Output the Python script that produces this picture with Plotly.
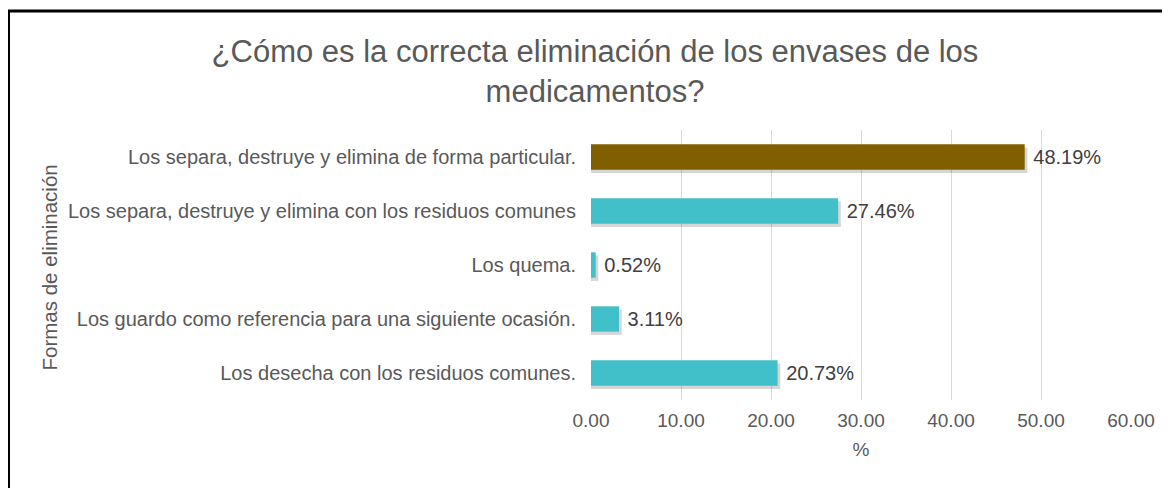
import plotly.graph_objects as go

# categories listed bottom -> top (plotly draws first category at the bottom)
categorias = [
    "Los desecha con los residuos comunes.",
    "Los guardo como referencia para una siguiente ocasión.",
    "Los quema.",
    "Los separa, destruye y elimina con los residuos comunes",
    "Los separa, destruye y elimina de forma particular.",
]
porcentajes = [20.73, 3.11, 0.52, 27.46, 48.19]
colores = ["#42C0C9", "#42C0C9", "#42C0C9", "#42C0C9", "#7F5F00"]
x_ticks = [0, 10, 20, 30, 40, 50, 60]

FONT = "Liberation Sans, Arial, sans-serif"
W, H = 1170, 488
# the page adds an 8px body margin, so figure coords = page coords - 8
L, R, T, B = 583, 47, 122, 96
pw, ph = W - L - R, H - T - B
BAR_W = 0.47


def px_x(p):
    return (p - L) / pw


def px_y(p):
    return (H - B - p) / ph


fig = go.Figure()

# soft drop shadow under each bar (Excel style)
fig.add_trace(go.Bar(
    x=[v + 0.3 for v in porcentajes],
    y=categorias,
    orientation="h",
    marker=dict(color="rgba(0,0,0,0.16)", line=dict(width=0)),
    width=BAR_W,
    offset=-BAR_W / 2 - 0.06,
    hoverinfo="skip",
))

fig.add_trace(go.Bar(
    x=porcentajes,
    y=categorias,
    orientation="h",
    marker=dict(color=colores, line=dict(width=0)),
    width=BAR_W,
    offset=-BAR_W / 2,
    texttemplate=" %{x:.2f}%",
    textposition="outside",
    textfont=dict(size=20, color="#404040", family=FONT),
    cliponaxis=False,
    hoverinfo="skip",
))

fig.update_layout(
    width=W, height=H,
    margin=dict(l=L, r=R, t=T, b=B),
    paper_bgcolor="white",
    plot_bgcolor="white",
    font=dict(family=FONT, color="#595959"),
    showlegend=False,
    barmode="overlay",
    title=dict(
        text="¿Cómo es la correcta eliminación de los envases de los<br>medicamentos?",
        x=587 / W, xanchor="center", xref="container",
        y=1 - 54 / H, yanchor="middle", yref="container",
        font=dict(size=31, color="#595959", family=FONT),
    ),
    xaxis=dict(
        range=[0, 60],
        tickvals=x_ticks,
        ticktext=[f"{v:.2f}" for v in x_ticks],
        showgrid=True, gridcolor="#D9D9D9", gridwidth=1,
        zeroline=False, showline=False,
        tickfont=dict(size=19, color="#595959"),
        ticks="", ticklabelstandoff=7,
        title=dict(text="%", font=dict(size=19, color="#595959"), standoff=12),
    ),
    yaxis=dict(
        showgrid=False, zeroline=False, showline=False,
        tickfont=dict(size=20, color="#595959"),
        ticks="", ticklabelstandoff=14,
        automargin=False,
    ),
)

# y-axis title as rotated annotation
fig.add_annotation(
    text="Formas de eliminación",
    xref="paper", yref="paper",
    x=px_x(27), y=px_y(260),
    textangle=-90, showarrow=False,
    font=dict(size=20.5, color="#595959", family=FONT),
)

# chart frame (black border at top and left)
fig.add_shape(
    type="rect", xref="paper", yref="paper",
    x0=px_x(0.5), x1=px_x(1250), y0=px_y(3), y1=px_y(560),
    line=dict(color="black", width=3), fillcolor="rgba(0,0,0,0)",
    layer="above",
)

fig.write_html("out.html")
